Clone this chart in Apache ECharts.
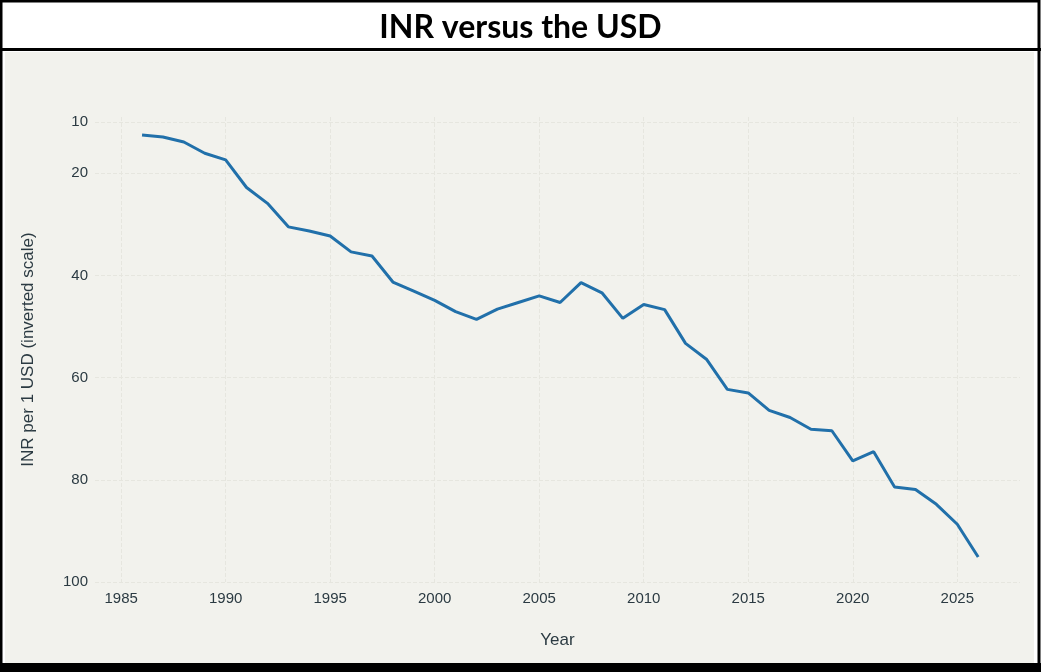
<!DOCTYPE html>
<html>
<head>
<meta charset="utf-8">
<title>INR versus the USD</title>
<script src="https://cdn.jsdelivr.net/npm/echarts@6/dist/echarts.min.js"></script>
<style>
    html, body { margin: 0; padding: 0; background: #fff; }
    #chart { width: 1041px; height: 672px; }
</style>
</head>
<body>
<div id="chart"></div>
<script>
// 年份
var years = [1986, 1987, 1988, 1989, 1990, 1991, 1992, 1993, 1994, 1995,
    1996, 1997, 1998, 1999, 2000, 2001, 2002, 2003, 2004, 2005,
    2006, 2007, 2008, 2009, 2010, 2011, 2012, 2013, 2014, 2015,
    2016, 2017, 2018, 2019, 2020, 2021, 2022, 2023, 2024, 2025, 2026];

// INR per 1 USD
var inrPerUsd = [12.5, 12.9, 13.9, 16.1, 17.4, 22.8, 25.9, 30.5, 31.3, 32.3,
    35.4, 36.2, 41.3, 43.1, 44.9, 47.1, 48.6, 46.6, 45.3, 44.0,
    45.3, 41.4, 43.4, 48.4, 45.7, 46.7, 53.3, 56.4, 62.3, 63.0,
    66.4, 67.8, 70.1, 70.4, 76.3, 74.5, 81.4, 81.9, 84.8, 88.7, 95.1];

// 刻度
var yTicks = [10, 20, 40, 60, 80, 100];
var xTicks = [1985, 1990, 1995, 2000, 2005, 2010, 2015, 2020, 2025];

window.onload = () => {
    drawChart();
};

function drawChart() {
    var myChart = echarts.init(document.getElementById('chart'));
    var labelColor = '#2b3a42';
    var gridColor = '#e6e6df';
    var font = 'Arial, "Liberation Sans", sans-serif';

    var option = {
        animation: false,
        backgroundColor: '#ffffff',
        title: {
            text: 'INR versus the USD',
            left: 'center',
            top: 7,
            textStyle: {
                fontFamily: 'Lato, "Open Sans", sans-serif',
                fontSize: 32,
                fontWeight: 'bold',
                color: '#000'
            }
        },
        // 边框和背景
        graphic: [
            { type: 'rect', z: -10, silent: true, shape: { x: 5, y: 52, width: 1029, height: 611 }, style: { fill: '#f2f2ed' } },
            { type: 'rect', z: -5, silent: true, shape: { x: 1, y: 1, width: 1038, height: 669 }, style: { fill: 'none', stroke: '#000', lineWidth: 3 } },
            { type: 'rect', z: -5, silent: true, shape: { x: 0, y: 663, width: 1041, height: 9 }, style: { fill: '#000' } },
            { type: 'line', z: -5, silent: true, shape: { x1: 0, y1: 49.5, x2: 1041, y2: 49.5 }, style: { stroke: '#000', lineWidth: 3 } }
        ],
        grid: {
            left: 95,
            right: 21,
            top: 117,
            bottom: 90
        },
        xAxis: {
            type: 'value',
            min: 1983.75,
            max: 2028,
            name: 'Year',
            nameLocation: 'middle',
            nameGap: 50,
            nameTextStyle: { fontFamily: font, fontSize: 17, color: labelColor },
            axisLine: { show: false },
            axisTick: { show: false, customValues: xTicks },
            axisLabel: {
                customValues: xTicks,
                formatter: function (v) { return String(v); },
                margin: 9,
                fontFamily: font,
                fontSize: 15,
                color: labelColor
            },
            splitLine: {
                show: true,
                lineStyle: { color: gridColor, width: 1, type: 'dashed' }
            }
        },
        yAxis: {
            type: 'value',
            inverse: true,
            min: 9,
            max: 100,
            name: 'INR per 1 USD (inverted scale)',
            nameLocation: 'middle',
            nameGap: 58,
            nameTextStyle: { fontFamily: font, fontSize: 17, color: labelColor },
            axisLine: { show: false },
            axisTick: { show: false, customValues: yTicks },
            axisLabel: {
                customValues: yTicks,
                margin: 7,
                fontFamily: font,
                fontSize: 15,
                color: labelColor
            },
            splitLine: {
                show: true,
                lineStyle: { color: gridColor, width: 1, type: 'dashed' }
            }
        },
        series: [
            {
                name: 'INR per 1 USD',
                type: 'line',
                data: years.map(function (y, i) { return [y, inrPerUsd[i]]; }),
                symbol: 'none',
                lineStyle: { color: '#2170aa', width: 3 }
            }
        ]
    };

    myChart.setOption(option);
}
</script>
</body>
</html>
